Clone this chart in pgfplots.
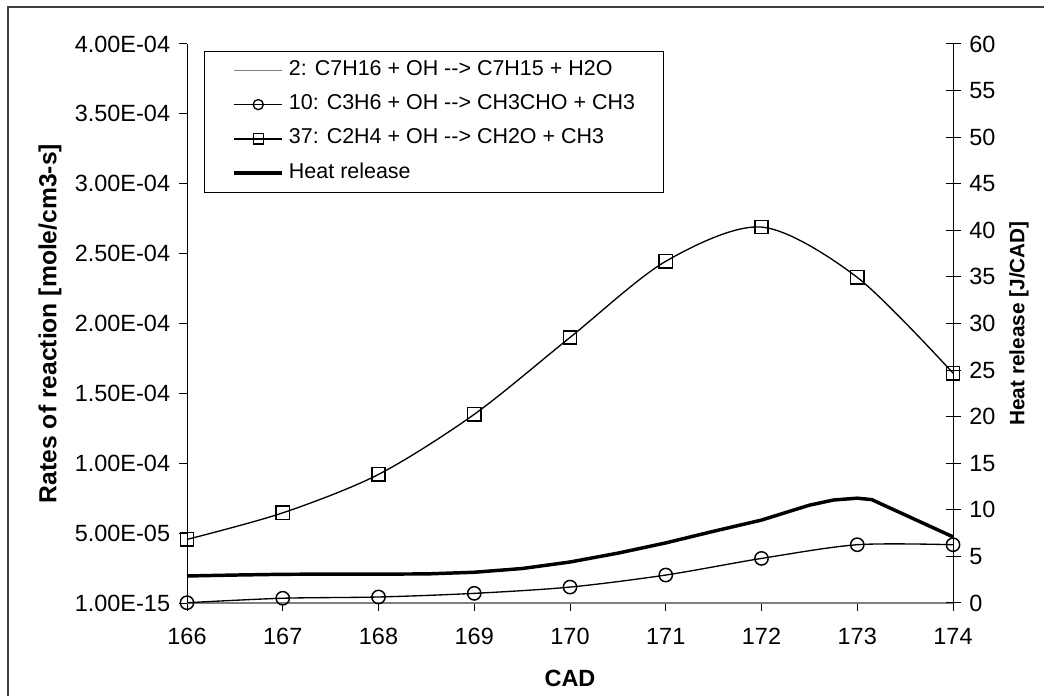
\documentclass[border=0pt]{standalone}
\usepackage{fontspec}
\setmainfont{Liberation Sans}
\usepackage{pgfplots}
\pgfplotsset{compat=1.18}
\definecolor{seriesgray}{RGB}{128,128,128}
\begin{document}
\begin{tikzpicture}
\useasboundingbox (0pt,0pt) rectangle (783pt,521.25pt);
\draw[black!75, line width=1.5pt] (6pt,-20pt) -- (6pt,516pt) -- (800pt,516pt);
\begin{axis}[
  at={(140.25pt,69pt)}, anchor=south west, scale only axis,
  width=574.5pt, height=419.25pt,
  xmin=166, xmax=174, ymin=0, ymax=4e-4,
  clip=false, scaled y ticks=false,
  axis x line*=bottom, axis y line*=left,
  axis line style={line width=0.75pt, -},
  tick align=outside, major tick length=6pt,
  tick style={black, line width=0.75pt},
  xtick={166,167,168,169,170,171,172,173,174},
  xticklabels={166,167,168,169,170,171,172,173,174},
  ytick={0,0.00005,0.0001,0.00015,0.0002,0.00025,0.0003,0.00035,0.0004},
  yticklabels={1.00E-15,5.00E-05,1.00E-04,1.50E-04,2.00E-04,2.50E-04,3.00E-04,3.50E-04,4.00E-04},
  ticklabel style={font=\fontsize{17.6}{20}\selectfont},
  yticklabel style={inner sep=0pt, xshift=-6.5pt},
  xticklabel style={inner sep=0pt, yshift=-12.75pt},
  xlabel={CAD},
  xlabel style={at={(axis description cs:0.5,-0.135)}, anchor=center, font=\bfseries\fontsize{17.6}{20}\selectfont},
  ylabel={Rates of reaction [mole/cm3-s]},
  ylabel style={at={(axis description cs:-0.1789,0.5)}, anchor=center, font=\bfseries\fontsize{18.5}{20}\selectfont},
]
\addplot[seriesgray, line width=1.1pt] coordinates {
(166,0) (167,0) (168,0) (169,0) (170,0) (171,0) (172,0) (173,0) (174,0)};
\addplot[black, line width=1pt, smooth, mark=o, mark size=5pt, mark options={solid, line width=1.1pt, fill=none}] coordinates {
(166,0.0000002) (167,0.0000034) (168,0.0000043) (169,0.0000069) (170,0.0000114) (171,0.0000200) (172,0.0000319) (173,0.0000417) (174,0.0000417)};
\addplot[black, line width=1pt, smooth, mark=square, mark size=5pt, mark options={solid, line width=1.1pt, fill=none}] coordinates {
(166,0.0000455) (167,0.0000645) (168,0.0000920) (169,0.0001350) (170,0.0001900) (171,0.0002445) (172,0.0002690) (173,0.0002330) (174,0.0001645)};
\end{axis}
\begin{axis}[
  at={(140.25pt,69pt)}, anchor=south west, scale only axis,
  width=574.5pt, height=419.25pt,
  xmin=166, xmax=174, ymin=0, ymax=60,
  clip=false,
  axis x line=none, axis y line*=right,
  axis line style={line width=0.75pt, -},
  tick align=center, major tick length=11.25pt,
  tick style={black, line width=0.75pt},
  ytick={0,5,10,15,20,25,30,35,40,45,50,55,60},
  yticklabels={0,5,10,15,20,25,30,35,40,45,50,55,60},
  ticklabel style={font=\fontsize{17.6}{20}\selectfont},
  yticklabel style={inner sep=0pt, xshift=6.5pt},
  ylabel={Heat release [J/CAD]},
  ylabel style={at={(axis description cs:1.0862,0.5)}, anchor=center, font=\bfseries\fontsize{15.6}{18}\selectfont},
  legend style={at={(axis description cs:0.0222,0.9875)}, anchor=north west,
    draw=black, line width=0.75pt, inner xsep=21pt, inner ysep=5.8pt,
    row sep=9pt, column sep=3.75pt,
    font=\fontsize{16.1}{19}\selectfont,
    nodes={inner sep=0pt, text height=12pt, text depth=4.7pt}},
  legend cell align=left,
  legend image code/.code={\draw[mark repeat=2,mark phase=2,#1] plot coordinates {(0pt,0pt) (18pt,0pt) (36pt,0pt)};},
]
\addlegendimage{seriesgray, line width=1.1pt}
\addlegendentry{\makebox[252pt][l]{2: C7H16 + OH -{}-> C7H15 + H2O}}
\addlegendimage{black, line width=1pt, mark=o, mark size=3.8pt, mark options={solid, line width=1pt}}
\addlegendentry{10: C3H6 + OH -{}-> CH3CHO + CH3}
\addlegendimage{black, line width=1pt, mark=square, mark size=3.8pt, mark options={solid, line width=1pt}}
\addlegendentry{37: C2H4 + OH -{}-> CH2O + CH3}
\addplot[black, line width=2.6pt, line join=round] coordinates {
(166,2.9) (166.5,3.0) (167,3.08) (167.5,3.1) (168,3.1) (168.5,3.12) (169,3.3) (169.5,3.7) (170,4.4) (170.5,5.35) (171,6.45) (171.5,7.7) (172,8.9) (172.5,10.5) (172.75,11.05) (173,11.25) (173.15,11.1) (174,7.1)};
\addlegendentry{Heat release}
\end{axis}
\end{tikzpicture}
\end{document}
